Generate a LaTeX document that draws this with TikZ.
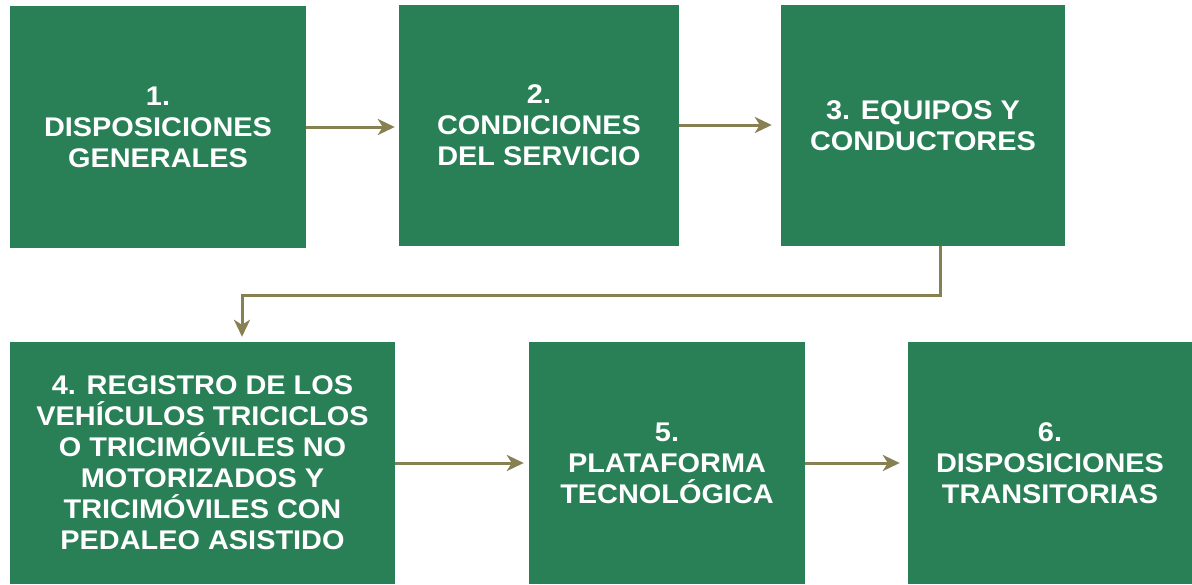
\documentclass[tikz,border=0pt]{standalone}
\usepackage{fontspec}
\setmainfont{Liberation Sans}[FakeStretch=1.07]
\usepackage{tikz}
\usetikzlibrary{arrows.meta}
\definecolor{boxgreen}{RGB}{41,127,86}
\definecolor{linkolive}{RGB}{134,128,82}

\begin{document}
\begin{tikzpicture}[x=1pt,y=-1pt,
box/.style={fill=boxgreen, text=white, align=center, inner sep=0pt,
    font=\fontsize{27}{31}\selectfont\bfseries},
link/.style={draw=linkolive, line width=3pt,
    -{Stealth[length=17pt,width=16pt,inset=5pt]}}]
\useasboundingbox (0,0) rectangle (1192,584);
\node[box, minimum width=296pt, minimum height=242pt] (b1) at (158,127)
    {1.\\DISPOSICIONES\\GENERALES};
\node[box, minimum width=280pt, minimum height=241pt] (b2) at (539,125.5)
    {2.\\CONDICIONES\\DEL SERVICIO};
\node[box, minimum width=284pt, minimum height=241pt] (b3) at (923,125.5)
    {3. EQUIPOS Y\\CONDUCTORES};
\node[box, minimum width=385pt, minimum height=242pt] (b4) at (202.5,463)
    {4. REGISTRO DE LOS\\VEHÍCULOS TRICICLOS\\O TRICIMÓVILES NO\\MOTORIZADOS Y\\TRICIMÓVILES CON\\PEDALEO ASISTIDO};
\node[box, minimum width=276pt, minimum height=242pt] (b5) at (667,463)
    {5.\\PLATAFORMA\\TECNOLÓGICA};
\node[box, minimum width=284pt, minimum height=242pt] (b6) at (1050,463)
    {6.\\DISPOSICIONES\\TRANSITORIAS};
\coordinate (turnR) at (940,295);
\coordinate (turnL) at (242,295);
\draw[link, shorten >=4pt] (b1.east |- 0,127) -- (b2.west |- 0,127);
\draw[link, shorten >=9pt] (b2.east |- 0,125) -- (b3.west |- 0,125);
\draw[link, shorten >=5pt] (b3.south -| turnR) -- (turnR) -- (turnL) -- (b4.north -| turnL);
\draw[link, shorten >=5pt] (b4.east |- 0,463) -- (b5.west |- 0,463);
\draw[link, shorten >=8pt] (b5.east |- 0,463) -- (b6.west |- 0,463);
\end{tikzpicture}
\end{document}
